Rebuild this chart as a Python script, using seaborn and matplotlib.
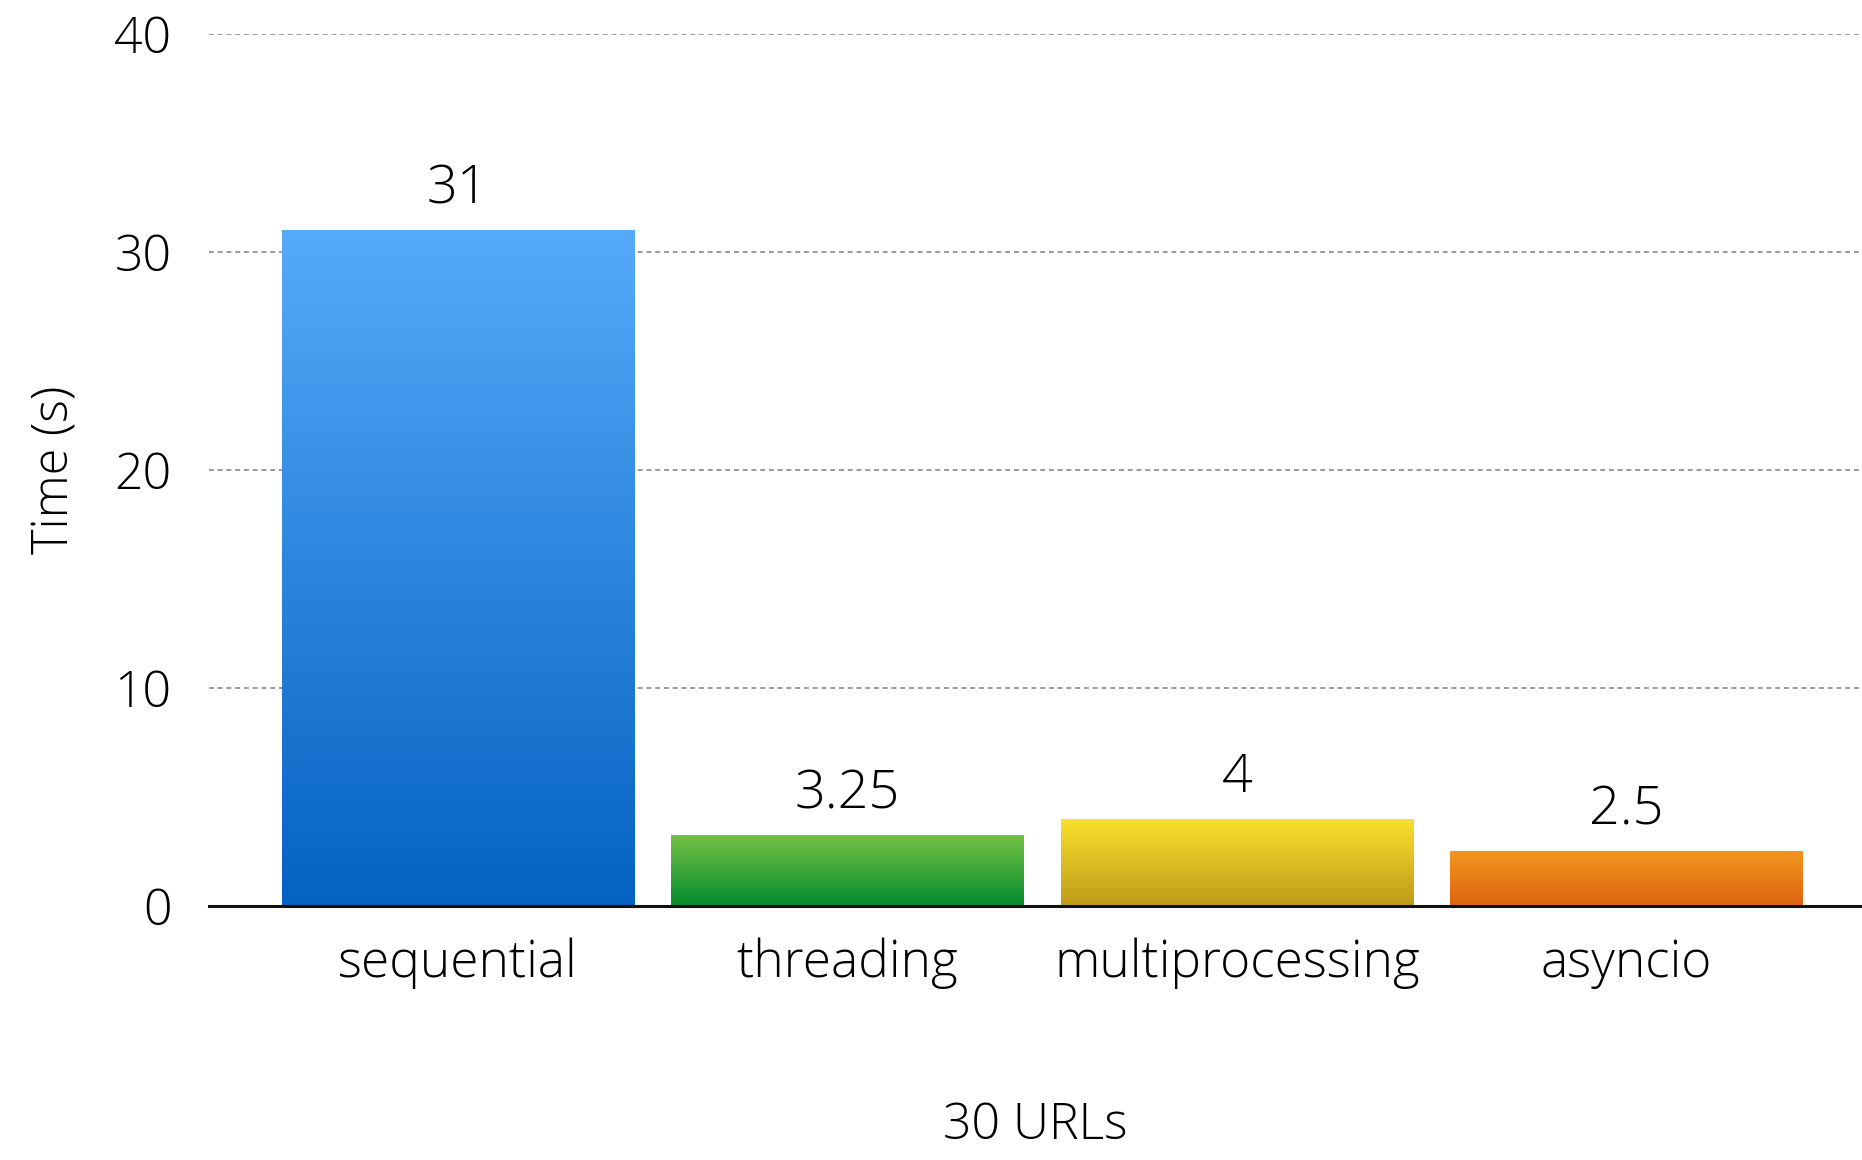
import numpy as np
import pandas as pd
import matplotlib
matplotlib.use("Agg")
import matplotlib.pyplot as plt
import seaborn as sns
from matplotlib.colors import LinearSegmentedColormap

# Data
methods = ["sequential", "threading", "multiprocessing", "asyncio"]
times = [31, 3.25, 4, 2.5]
value_labels = ["31", "3.25", "4", "2.5"]
y_ticks = [0, 10, 20, 30, 40]

# Top / bottom colours of each bar's vertical gradient
grad_top = ["#55AAFA", "#76C246", "#F9E22D", "#F1961D"]
grad_bottom = ["#0462C1", "#028A2E", "#BE9A19", "#DD6410"]

sns.set_theme(style="white")
plt.rcParams["font.family"] = ["Open Sans", "DejaVu Sans"]
plt.rcParams["font.weight"] = "light"

df = pd.DataFrame({"method": methods, "time": times})

fig = plt.figure(figsize=(18.62, 11.6), dpi=100)
ax = fig.add_axes([0.1122, 0.219, 0.8878, 0.7517])

sns.barplot(data=df, x="method", y="time", ax=ax, width=0.905,
            color=grad_top[0], saturation=1, linewidth=0, zorder=3)

# Replace flat fills with vertical gradients clipped to each bar
for patch, top, bot in zip(ax.patches, grad_top, grad_bottom):
    x0, y0 = patch.get_x(), patch.get_y()
    w, h = patch.get_width(), patch.get_height()
    cmap = LinearSegmentedColormap.from_list("g", [bot, top])
    grad = np.linspace(0, 1, 256).reshape(-1, 1)
    im = ax.imshow(grad, cmap=cmap, aspect="auto", origin="lower",
                   extent=[x0, x0 + w, y0, y0 + h], zorder=3,
                   interpolation="bicubic")
    im.set_clip_path(patch)
    patch.set_facecolor("none")

ax.set_xlim(-0.639, 3.605)
ax.set_ylim(0, 40)

# Value labels above bars
for i, (v, lab) in enumerate(zip(times, value_labels)):
    ax.annotate(lab, (i, v), xytext=(0, 10), textcoords="offset points",
                ha="center", va="bottom", fontsize=39, color="black",
                fontweight="light")

# Grid and spines
ax.set_yticks(y_ticks)
ax.yaxis.grid(True, linestyle=(0, (2.5, 2)), color="#9a9a9a", linewidth=1.4, zorder=0)
ax.xaxis.grid(False)
for s in ["top", "right", "left"]:
    ax.spines[s].set_visible(False)
ax.spines["bottom"].set_color("#111111")
ax.spines["bottom"].set_linewidth(2.2)
ax.spines["bottom"].set_zorder(4)

ax.tick_params(axis="y", length=0, pad=27, labelsize=36, labelcolor="black")
ax.tick_params(axis="x", length=0, pad=23, labelsize=37, labelcolor="black")
for lab in ax.get_xticklabels() + ax.get_yticklabels():
    lab.set_fontweight("light")

ax.set_ylabel("Time (s)", fontsize=35, color="black", labelpad=24, fontweight="light")
ax.set_xlabel("30 URLs", fontsize=36, color="black", labelpad=80, fontweight="light")

fig.savefig("out.png", dpi=100, facecolor="white")
